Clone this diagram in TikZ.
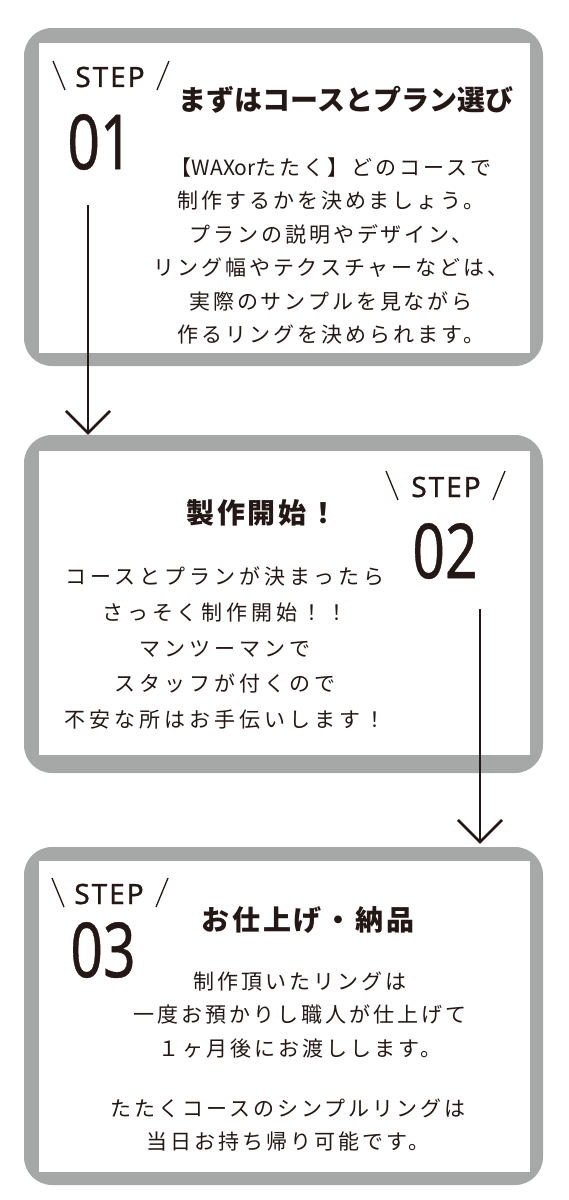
\documentclass[tikz,border=0pt]{standalone}
\usepackage{fontspec}
\usetikzlibrary{arrows.meta,calc}
\newfontfamily\jpbody{Noto Sans CJK JP}[LetterSpace=14]
\newfontfamily\jpbodywide{Noto Sans CJK JP}[LetterSpace=19]
\newfontfamily\jptitleA{Noto Sans CJK JP}
\newfontfamily\jptitleB{Noto Sans CJK JP}[LetterSpace=10]
\newfontfamily\stepfont{Noto Sans}[LetterSpace=7,FakeBold=1]
\newfontfamily\numfont{Noto Sans}[FakeBold=0.6]
\definecolor{boxgray}{RGB}{166,167,167}
\definecolor{ink}{RGB}{35,24,21}
\tikzset{
  outerbox/.style={rectangle, fill=boxgray, rounded corners=28pt, inner sep=0pt, minimum width=519pt, minimum height=338pt},
  innerbox/.style={rectangle, fill=white, inner sep=0pt, minimum width=491pt},
  conn/.style={draw=ink, line width=2.6pt, -{Straight Barb[length=22pt,width=44pt]}},
  slash/.style={draw=ink, line width=1.3pt},
  steplabel/.style={text=ink, inner sep=0pt, font=\stepfont\fontsize{28}{30}\selectfont},
  numlabel/.style={text=ink, inner sep=0pt, font=\numfont\fontsize{76}{80}\selectfont},
  titleA/.style={text=ink, inner sep=0pt, font=\jptitleA\bfseries\fontsize{28}{32}\selectfont},
  titleB/.style={text=ink, inner sep=0pt, font=\jptitleB\bfseries\fontsize{28}{32}\selectfont},
  body/.style={text=ink, inner sep=0pt, align=center, font=\jpbody\fontsize{21}{33.5}\selectfont},
  bodywide/.style={text=ink, inner sep=0pt, align=center, font=\jpbodywide\fontsize{21}{35.7}\selectfont},
}
\begin{document}
\begin{tikzpicture}[x=1pt,y=-1pt]
\useasboundingbox (0,0) rectangle (568,1200);
% boxes
\node[outerbox] (box1) at (283.5,197) {};
\node[innerbox, minimum height=310pt] (in1) at (284.5,198) {};
\node[outerbox] (box2) at (283.5,604) {};
\node[innerbox, minimum height=304pt] (in2) at (284.5,603) {};
\node[outerbox] (box3) at (283.5,1016) {};
\node[innerbox, minimum height=311pt] (in3) at (284.5,1016.5) {};
% step 1
\node[steplabel] (step1) at (110,77) {STEP};
\draw[slash] ($(step1)+(-57,-16)$) coordinate (s1a) -- ($(step1)+(-45,13)$) coordinate (s1b);
\draw[slash] ($(step1)+(59,-16)$) coordinate (s1c) -- ($(step1)+(47,13)$) coordinate (s1d);
\node[numlabel] (num1) at (100,142) {\scalebox{0.75}[1]{01}};
\node[titleA] (title1) at (346,100) {まずはコースとプラン選び};
\node[body] (text1) at (331,251) {【{\jptitleA WAXor}たたく】どのコースで\\制作するかを決めましょう。\\プランの説明やデザイン、\\リング幅やテクスチャーなどは、\\実際のサンプルを見ながら\\作るリングを決められます。};
% step 2
\node[steplabel] (step2) at (446,487) {STEP};
\draw[slash] ($(step2)+(-60,-16)$) coordinate (s2a) -- ($(step2)+(-48,13)$) coordinate (s2b);
\draw[slash] ($(step2)+(59,-16)$) coordinate (s2c) -- ($(step2)+(47,13)$) coordinate (s2d);
\node[numlabel] (num2) at (445,551) {\scalebox{0.75}[1]{02}};
\node[titleB] (title2) at (262,513) {製作開始！};
\node[bodywide] (text2) at (225,648) {コースとプランが決まったら\\さっそく制作開始！！\\マンツーマンで\\スタッフが付くので\\不安な所はお手伝いします！};
% step 3
\node[steplabel] (step3) at (109,894) {STEP};
\draw[slash] ($(step3)+(-57,-16)$) coordinate (s3a) -- ($(step3)+(-45,13)$) coordinate (s3b);
\draw[slash] ($(step3)+(59,-16)$) coordinate (s3c) -- ($(step3)+(47,13)$) coordinate (s3d);
\node[numlabel] (num3) at (103,950) {\scalebox{0.75}[1]{03}};
\node[titleB] (title3) at (308,920) {お仕上げ・納品};
\node[body] (text3a) at (300,1015) {制作頂いたリングは\\一度お預かりし職人が仕上げて\\１ヶ月後にお渡しします。};
\node[body] (text3b) at (288,1125) {たたくコースのシンプルリングは\\当日お持ち帰り可能です。};
% connectors
\coordinate (a1s) at (88,205);
\coordinate (a2s) at (480,609);
\draw[conn] (a1s) -- (box2.north -| a1s);
\draw[conn, shorten >=3pt] (a2s) -- (box3.north -| a2s);
\end{tikzpicture}
\end{document}
